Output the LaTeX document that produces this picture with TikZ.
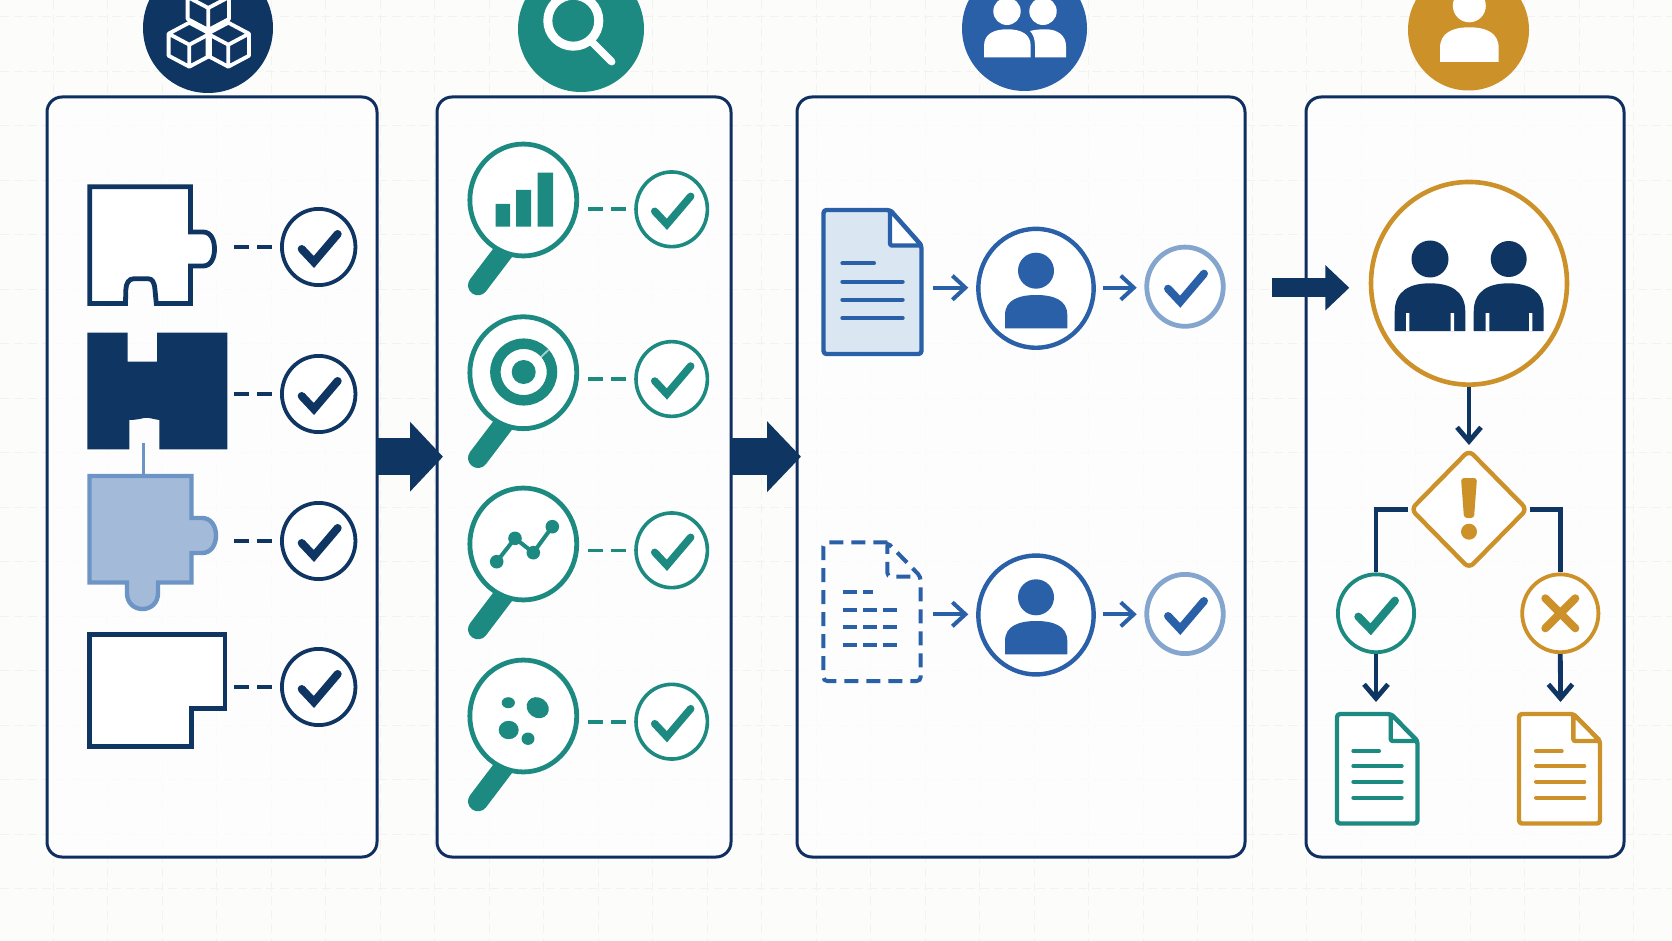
\documentclass[tikz,border=0pt]{standalone}
\usetikzlibrary{arrows.meta,shapes.geometric}
\definecolor{navy}{HTML}{0F3562}
\definecolor{edgeblue}{HTML}{0E2F60}
\definecolor{teal1}{HTML}{1C8A80}
\definecolor{blue1}{HTML}{2A60A8}
\definecolor{amber}{HTML}{CC9128}
\definecolor{paper}{HTML}{FCFCFA}
\definecolor{gridc}{HTML}{F2F2EF}
\definecolor{puzfill}{HTML}{A3BBD9}
\definecolor{puzedge}{HTML}{6C94C4}
\definecolor{docfill}{HTML}{DAE6F2}
\definecolor{pale}{HTML}{84A6CE}
\tikzset{
  panel/.style={draw=edgeblue,line width=3pt,rounded corners=15pt,fill=white,fill opacity=.65,draw opacity=1,inner sep=0pt},
  hdr/.style={circle,inner sep=0pt,fill=#1,draw=none},
  ring/.style={ellipse,draw=#1,fill=white,inner sep=0pt},
  navyring/.style={ring=navy,line width=3.8pt,minimum width=73.5pt,minimum height=76.2pt},
  tealring/.style={ring=teal1,line width=3.6pt,minimum width=71.4pt,minimum height=74.7pt},
  lensring/.style={ring=teal1,line width=4.8pt,minimum width=106.9pt,minimum height=111.9pt},
  personring/.style={ring=blue1,line width=4.4pt,minimum width=115.3pt,minimum height=118.9pt},
  paleRing/.style={ring=pale,line width=4.8pt,minimum width=76.5pt,minimum height=79.2pt},
  ckline/.style={line width=#1,line cap=round,line join=miter,miter limit=4},
  dashcon/.style={draw=#1,line width=3.6pt,dash pattern=on 15pt off 8pt,shorten >=8pt},
  thickp/.style={draw=navy,line width=4.8pt,fill=white,line join=miter},
  smallarrow/.style={draw=blue1,line width=4pt,-{Straight Barb[length=13pt,width=24pt]}},
  navyarrow/.style={draw=navy,line width=4.8pt,-{Straight Barb[length=14pt,width=24pt]}},
  textline/.style={line width=4pt,line cap=round},
}
\newcommand\ckmark[3]{\draw[ckline=#3,draw=#2] ([shift={(-17,2)}]#1.center) -- ([shift={(-4.8,15)}]#1.center) -- ([shift={(19,-13)}]#1.center);}
\newcommand\domebody[5]{\fill[#5] (#1,#4) -- (#1,{#3+0.6*(#4-#3)}) .. controls (#1,{#3+0.15*(#4-#3)}) and ({#1+0.22*(#2-#1)},#3) .. ({0.5*(#1+#2)},#3) .. controls ({#2-0.22*(#2-#1)},#3) and (#2,{#3+0.15*(#4-#3)}) .. (#2,{#3+0.6*(#4-#3)}) -- (#2,#4) -- cycle;}
\newcommand\cube[2]{\draw[white,line width=3.8pt,line join=round]
  (#1,#2-22) -- (#1+20.7,#2-11) -- (#1+20.7,#2+11) -- (#1,#2+22) -- (#1-20.7,#2+11) -- (#1-20.7,#2-11) -- cycle
  (#1-20.7,#2-11) -- (#1,#2) -- (#1+20.7,#2-11) (#1,#2) -- (#1,#2+22);}
\newcommand\docshape[8]{% left right top bottom foldx foldy color fill
  \draw[draw=#7,line width=4.4pt,fill=#8,rounded corners=3pt,line join=round] (#1,#3) -- (#5,#3) -- (#2,#6) -- (#2,#4) -- (#1,#4) -- cycle;
  \draw[draw=#7,line width=4.4pt,fill=white,rounded corners=2pt,line join=round] (#5,#3) -- (#5,#6) -- (#2,#6) -- cycle;}
\newcommand\lens[3]{% name, y of lens, check y
  \draw[teal1,line width=20pt,line cap=round] (505.3,#2+50) -- (478,#2+86);
  \node[lensring] (#1) at (523.3,#2+0.7) {};}
\begin{document}
\begin{tikzpicture}[x=1pt,y=-1pt]
\useasboundingbox (0,0) rectangle (1672,941);
\clip (0,0) rectangle (1672,941);
\fill[paper] (0,0) rectangle (1672,941);
% background grid
\foreach \k in {0,...,30}{\draw[gridc,line width=.9pt,dash pattern=on 9pt off 5pt] ({53.3+54.5*\k},0) -- ({53.3+54.5*\k},941);}
\foreach \k in {0,...,16}{\draw[gridc,line width=.9pt,dash pattern=on 9pt off 5pt] (0,{16.7+54.5*\k}) -- (1672,{16.7+54.5*\k});}
% panels
\node[panel,minimum width=330pt,minimum height=760pt] (P1) at (212,477) {};
\node[panel,minimum width=294pt,minimum height=760pt] (P2) at (584,477) {};
\node[panel,minimum width=448pt,minimum height=760pt] (P3) at (1021,477) {};
\node[panel,minimum width=318pt,minimum height=760pt] (P4) at (1465,477) {};
% header discs
\node[hdr=navy,minimum size=130pt] (H1) at (208,28) {};
\node[hdr=teal1,minimum size=126pt] (H2) at (581,29) {};
\node[hdr=blue1,minimum size=125pt] (H3) at (1024.5,28.5) {};
\node[hdr=amber,minimum size=121pt] (H4) at (1468.5,30) {};
\cube{208.3}{8}
\cube{189.3}{44.7}
\cube{228.3}{44.7}
\draw[white,line width=9pt] (573.3,20.7) circle[radius=25.5];
\draw[white,line width=7.5pt,line cap=round] (592,42) -- (611.7,61.7);
\fill[white] (1007,11.3) circle[radius=13.7] (1043,11.3) circle[radius=13.7];
\domebody{984}{1030.7}{29.3}{57.3}{white}
\fill[white] (1035,57.3) -- (1035,46) .. controls (1035,39) and (1033,34) .. (1030,31) .. controls (1036,29.5) and (1040,29.3) .. (1046,29.3) .. controls (1058,29.3) and (1066,36) .. (1066,46) -- (1066,57.3) -- cycle;
\fill[white] (1469.3,5.8) circle[radius=16.5];
\domebody{1440}{1498.7}{27.3}{62}{white}
% column 1: puzzle pieces
\draw[thickp] (89.8,186.8) -- (190.4,186.8) -- (190.4,232) -- (203,232) .. controls (211,232) and (214.5,240) .. (214.5,249) .. controls (214.5,258) and (211,266) .. (203,266) -- (190.4,266) -- (190.4,303.5) -- (156.3,303.5) -- (155,290) .. controls (154.5,282) and (152,278.7) .. (148,278.7) -- (134,278.7) .. controls (129,278.7) and (126,283) .. (125.8,290) -- (125.5,303.5) -- (89.8,303.5) -- cycle;
\fill[navy] (87.3,332.7) -- (127.7,332.7) -- (127.7,361.7) -- (157,361.7) -- (157,332.7) -- (227.3,332.7) -- (227.3,449.3) -- (159.3,449.3) -- (159.3,420) .. controls (152,419) and (148,417) .. (144,418) .. controls (140,419) and (135,420) .. (129.3,420) -- (129.3,449.3) -- (87.3,449.3) -- cycle;
\coordinate (stubA) at (143.5,443);
\coordinate (stubB) at (143.5,476);
\draw[puzedge,line width=2.4pt] (stubA) -- (stubB);
\draw[draw=puzedge,fill=puzfill,line width=4.4pt] (89.5,476) -- (191.5,476) -- (191.5,518) -- (202,518) .. controls (211,518) and (216,526) .. (216,535.5) .. controls (216,545) and (211,553) .. (202,553) -- (191.5,553) -- (191.5,582.5) -- (158,582.5) -- (158,593) .. controls (158,603) and (151,609) .. (142.5,609) .. controls (134,609) and (127,603) .. (127,593) -- (127,582.5) -- (89.5,582.5) -- cycle;
\draw[thickp] (89.6,634.3) -- (225,634.3) -- (225,708.3) -- (191.3,708.3) -- (191.3,746.7) -- (89.6,746.7) -- cycle;
% column 1: checks
\foreach \n/\y in {1/247,2/394,3/541,4/687}{
  \node[navyring] (A\n) at (318.7,\y) {};
  \coordinate (a\n) at (234,\y);
  \draw[dashcon=navy] (a\n) -- (A\n);
  \ckmark{A\n}{navy}{8pt}
}
% column 2: magnifiers
\lens{L1}{199.3}{}
\lens{L2}{372}{}
\lens{L3}{543.3}{}
\lens{L4}{715.3}{}
\fill[teal1] (495.7,204) rectangle (510,226.7) (516,190) rectangle (531,226.7) (537.7,172.7) rectangle (553,226.7);
\draw[teal1,line width=10.5pt] (523.7,372) circle[radius=28.3];
\fill[teal1] (523.7,372) circle[radius=12];
\draw[white,opacity=.6,line width=1.8pt] (535,363) -- (548.3,350);
\draw[teal1,line width=4pt] (496.7,561.7) -- (515,538.3) -- (533.3,552.7) -- (552.3,526.7);
\fill[teal1] (496.7,561.7) circle[radius=6.8] (515,538.3) circle[radius=6.8] (533.3,552.7) circle[radius=6.8] (552.3,526.7) circle[radius=6.8];
\fill[teal1] (508.3,702.7) ellipse[x radius=6.6,y radius=5.5];
\fill[teal1,rotate around={-35:(537.7,707.7)}] (537.7,707.7) ellipse[x radius=11.6,y radius=10];
\fill[teal1] (508.7,730) ellipse[x radius=10,y radius=9.2];
\fill[teal1] (528,738.7) ellipse[x radius=6.5,y radius=6.2];
\foreach \n/\y in {1/209.3,2/379,3/550.3,4/721.7}{
  \node[tealring] (T\n) at (671.7,\y) {};
  \coordinate (t\n) at (588.3,\y);
  \draw[dashcon=teal1] (t\n) -- (T\n);
  \ckmark{T\n}{teal1}{7.5pt}
}
% column 3: first row
\docshape{823.5}{921.5}{210}{354}{890}{245.5}{blue1}{docfill}
\draw[blue1,textline] (842.3,263.3) -- (874,263.3) (842.3,281.7) -- (902.7,281.7) (842.3,299.7) -- (902.7,299.7) (842.3,318) -- (902.7,318);
\coordinate (b1) at (933.3,287.7);
\node[personring] (U1) at (1036,288.3) {};
\fill[blue1] (1036,270.7) circle[radius=18];
\domebody{1005}{1067.3}{295}{328.3}{blue1}
\node[paleRing] (V1) at (1185,286.7) {};
\ckmark{V1}{blue1}{8pt}
\coordinate (u1) at (968.3,287.7);
\coordinate (u2) at (1103.3,287.7);
\coordinate (u3) at (1136.7,287.7);
\draw[smallarrow] (b1) -- (u1);
\draw[smallarrow] (u2) -- (u3);
% column 3: second row
\draw[blue1,line width=4pt,dash pattern=on 14pt off 8pt,rounded corners=4pt] (887.3,542.3) -- (823.3,542.3) -- (823.3,681) -- (920.7,681) -- (920.7,576.7) -- (887.3,542.3) -- (887.3,576.7) -- (920.7,576.7);
\draw[blue1,line width=4pt,dash pattern=on 14pt off 6pt] (842.7,592.3) -- (873.3,592.3) (842.7,610) -- (901.7,610) (842.7,627.3) -- (901.7,627.3) (842.7,645) -- (901.7,645);
\coordinate (b2) at (933.3,614.3);
\node[personring] (U2) at (1036,615) {};
\fill[blue1] (1036,597.3) circle[radius=18];
\domebody{1005}{1067.3}{621}{654.3}{blue1}
\node[paleRing] (V2) at (1185,614) {};
\ckmark{V2}{blue1}{8pt}
\coordinate (w1) at (968.3,614.3);
\coordinate (w2) at (1103.3,614.3);
\coordinate (w3) at (1136.7,614.3);
\draw[smallarrow] (b2) -- (w1);
\draw[smallarrow] (w2) -- (w3);
% column 4
\node[ring=amber,line width=4.6pt,minimum width=196pt,minimum height=202.7pt] (G) at (1469,283.3) {};
\fill[navy] (1430,259) circle[radius=18.5] (1508.7,259) circle[radius=18];
\domebody{1394.7}{1465.3}{283.3}{331}{navy}
\domebody{1473.7}{1543.7}{283.3}{331}{navy}
\fill[white] (1406,313) rectangle (1409.3,331) (1450.7,313) rectangle (1454,331) (1485.7,313) rectangle (1489.3,331) (1529,313) rectangle (1532.3,331);
\node[diamond,aspect=1,draw=amber,fill=white,line width=4.4pt,rounded corners=6pt,minimum width=117.5pt,minimum height=119.5pt,inner sep=0pt] (D) at (1469,509.3) {};
\fill[amber,rounded corners=3pt] (1461,478) -- (1477,478) -- (1474,518) -- (1464,518) -- cycle;
\fill[amber] (1469,531.7) circle[radius=8];
\node[ring=teal1,line width=3.8pt,minimum width=76.2pt,minimum height=77.9pt] (Y) at (1376,613.3) {};
\node[ring=amber,line width=3.8pt,minimum width=76.2pt,minimum height=77.9pt] (N) at (1560.3,613.3) {};
\draw[navy,line width=4.6pt] (D.west) -| (Y.north);
\draw[navy,line width=4.6pt] (D.east) -| (N.north);
\draw[ckline=8pt,draw=teal1] ([shift={(-17.7,3.3)}]Y.center) -- ([shift={(-5.3,16)}]Y.center) -- ([shift={(19,-12.7)}]Y.center);
\draw[amber,line width=8pt,line cap=round] ([shift={(-15,-15)}]N.center) -- ([shift={(15,15)}]N.center) ([shift={(-15,15)}]N.center) -- ([shift={(15,-15)}]N.center);
\docshape{1337}{1417.5}{714}{823.5}{1390.7}{741}{teal1}{white}
\docshape{1519}{1600}{714}{823.5}{1573.3}{741}{amber}{white}
\draw[teal1,textline] (1353.3,751) -- (1379,751) (1353.3,766) -- (1401.7,766) (1353.3,781.7) -- (1401.7,781.7) (1353.3,797.7) -- (1401.7,797.7);
\draw[amber,textline] (1536,751) -- (1561.7,751) (1536,766) -- (1584.3,766) (1536,781.7) -- (1584.3,781.7) (1536,797.7) -- (1584.3,797.7);
\coordinate (dA) at (1469,445);
\coordinate (e1) at (1376,702);
\coordinate (e2) at (1560.5,702);
\draw[navyarrow] (G.south) -- (dA);
\draw[navyarrow] (Y.south) -- (e1);
\draw[navyarrow] (N.south) -- (e2);
% big arrows
\coordinate (s1) at (377,456.7);
\coordinate (f1) at (443,456.7);
\coordinate (s2) at (731,456.7);
\coordinate (f2) at (801,456.7);
\coordinate (s3) at (1271.7,287.8);
\coordinate (f3) at (1349.3,287.8);
\draw[navy,line width=37pt,-{Triangle[length=33pt,width=68pt]}] (s1) -- (f1);
\draw[navy,line width=37pt,-{Triangle[length=34pt,width=69pt]}] (s2) -- (f2);
\draw[navy,line width=19pt,-{Triangle[length=24pt,width=44pt]}] (s3) -- (f3);
\end{tikzpicture}
\end{document}
